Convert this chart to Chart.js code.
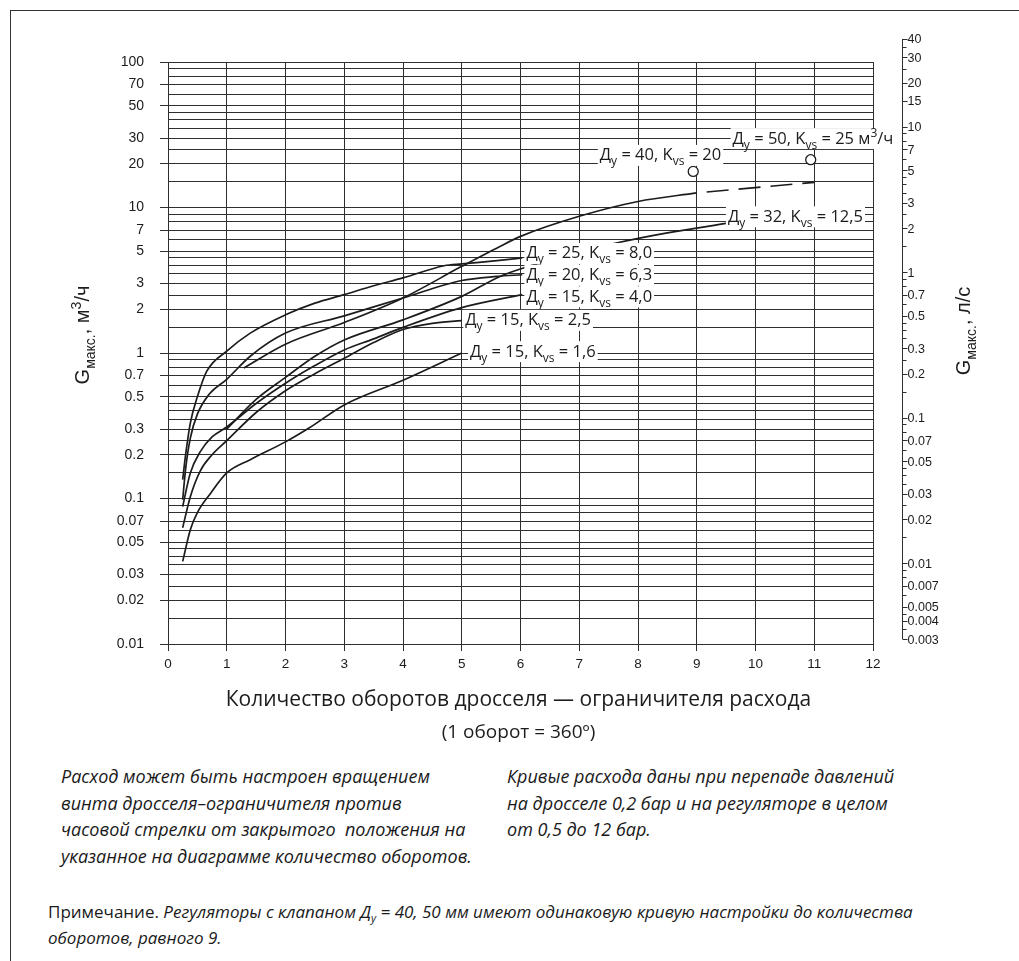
<!DOCTYPE html>
<html lang="ru">
<head>
<meta charset="utf-8">
<title>Кривые настройки расхода</title>
<script src="https://cdn.jsdelivr.net/npm/chart.js@4.4.1/dist/chart.umd.min.js"></script>
<style>
  html, body { margin: 0; padding: 0; background: #fff; overflow: hidden; }
  body { width: 1019px; height: 961px; position: relative; color: #1a1a1a; }
  #frame { position: absolute; left: 10px; top: 10px; width: 1100px; height: 1100px; border: 1.5px solid #333; }
  #chart { position: absolute; left: 0; top: 0; }
  .para { position: absolute; font-family: "Open Sans", sans-serif; font-style: italic; font-size: 18px; line-height: 26.6px; white-space: nowrap; }
  #note { position: absolute; left: 48px; top: 902px; font-family: "Open Sans", sans-serif; font-size: 17px; line-height: 19.5px; white-space: nowrap; }
  #note i sub { font-size: 11px; }
</style>
</head>
<body>
<div id="frame"></div>
<canvas id="chart" width="1019" height="761"></canvas>

<div class="para" style="left:61px; top:763px;">
  Расход может быть настроен вращением<br>
  винта дросселя–ограничителя против<br>
  часовой стрелки от закрытого&nbsp; положения на<br>
  указанное на диаграмме количество оборотов.
</div>
<div class="para" style="left:507px; top:763px;">
  Кривые расхода даны при перепаде давлений<br>
  на дросселе 0,2 бар и на регуляторе в целом<br>
  от 0,5 до 12 бар.
</div>
<div id="note">
  Примечание. <i>Регуляторы с клапаном Д<sub>y</sub> = 40, 50 мм имеют одинаковую кривую настройки до количества<br>
  оборотов, равного 9.</i>
</div>

<script>
// axes
const turnTicks = [0, 1, 2, 3, 4, 5, 6, 7, 8, 9, 10, 11, 12];
const gridMantissas = [1, 1.5, 2, 2.5, 3, 3.5, 4, 4.5, 5, 6, 7, 8, 9];
const flowDecades = [-2, -1, 0, 1, 2];
const flowTickLabels = [0.01, 0.02, 0.03, 0.05, 0.07, 0.1, 0.2, 0.3, 0.5, 0.7, 1, 2, 3, 5, 7, 10, 20, 30, 50, 70, 100];
const litreDecades = [-3, -2, -1, 0, 1];
const litreTickLabels = [0.003, 0.004, 0.005, 0.007, 0.01, 0.02, 0.03, 0.05, 0.07, 0.1, 0.2, 0.3, 0.5, 0.7, 1, 2, 3, 5, 7, 10, 15, 20, 30, 40];
const litresToCubic = 3.6; // 1 л/с = 3,6 м3/ч

// curves: turns of the throttle -> G max, m3/h
const kvs16Turns = [0.25, 0.38, 0.5, 0.72, 1.0, 1.4, 2.0, 2.4, 3.0, 4.0, 5.0];
const kvs16Flow = [0.037, 0.061, 0.08, 0.108, 0.15, 0.185, 0.245, 0.305, 0.44, 0.65, 1.0];
const kvs25Turns = [0.25, 0.38, 0.55, 0.75, 1.0, 1.5, 2.0, 2.5, 3.0, 3.5, 4.0, 4.5, 5.0];
const kvs25Flow = [0.063, 0.103, 0.155, 0.2, 0.25, 0.39, 0.55, 0.72, 0.92, 1.18, 1.45, 1.6, 1.67];
const kvs40Turns = [0.25, 0.38, 0.55, 0.75, 1.0, 1.5, 2.0, 2.5, 3.0, 3.5, 4.0, 5.0, 6.03];
const kvs40Flow = [0.088, 0.15, 0.21, 0.265, 0.31, 0.45, 0.62, 0.82, 1.05, 1.25, 1.5, 2.05, 2.52];
const kvs63Turns = [0.25, 0.3, 0.38, 0.5, 0.7, 1.0, 1.4, 2.0, 3.0, 4.0, 5.0, 5.6, 6.03];
const kvs63Flow = [0.098, 0.16, 0.26, 0.38, 0.52, 0.66, 0.95, 1.37, 1.8, 2.39, 3.15, 3.36, 3.45];
const kvs80Turns = [0.25, 0.3, 0.38, 0.5, 0.66, 1.0, 1.4, 2.0, 2.5, 3.0, 3.5, 4.0, 4.7, 5.0, 5.6, 6.03];
const kvs80Flow = [0.135, 0.2, 0.33, 0.5, 0.75, 1.03, 1.37, 1.83, 2.2, 2.52, 2.9, 3.28, 3.98, 4.1, 4.31, 4.5];
const kvs125Turns = [1.0, 1.5, 2.0, 2.5, 3.0, 4.0, 5.0, 5.65, 6.05, 7.0, 7.63, 8.5, 9.53];
const kvs125Flow = [0.3, 0.48, 0.68, 0.95, 1.23, 1.69, 2.45, 3.36, 3.84, 4.9, 5.7, 6.7, 7.8];
const dn40Turns = [1.29, 2.0, 3.0, 4.0, 5.0, 5.65, 6.0, 7.0, 8.0, 9.0];
const dn40Flow = [0.79, 1.15, 1.62, 2.39, 3.94, 5.4, 6.33, 8.7, 11.0, 12.6];
const dn50DashTurns = [9.0, 11.0];
const dn50DashFlow = [12.6, 14.9];
const maxPointTurns = [8.94, 10.94];
const maxPointFlow = [17.7, 21.3];

// curve labels
const labelTurns = [9.61, 7.35, 9.53, 6.1, 6.1, 6.1, 5.06, 5.14];
const labelFlows = [30, 23, 8.7, 4.87, 3.45, 2.45, 1.69, 1.03];
const labelDn = ['50', '40', '32', '25', '20', '15', '15', '15'];
const labelKvs = ['25 м', '20', '12,5', '8,0', '6,3', '4,0', '2,5', '1,6'];

const INK = '#1c1c1c';
const GRID = '#2e2e2e';
const round6 = v => Number(v.toPrecision(6));
const decadeValues = (decades, lo, hi) => {
  const out = [];
  decades.forEach(e => gridMantissas.forEach(m => {
    const v = round6(e < 0 ? m / Math.pow(10, -e) : m * Math.pow(10, e));
    if (v >= lo && v <= hi) out.push(v);
  }));
  return out;
};
const flowGrid = decadeValues(flowDecades, 0.01, 100);
const litreGrid = decadeValues(litreDecades, 0.003, 40);
const flowLabelSet = new Set(flowTickLabels);
const litreLabelSet = new Set(litreTickLabels);

const toPoints = (xs, ys) => xs.map((x, i) => ({ x: x, y: ys[i] }));
const curve = (xs, ys, extra) => Object.assign({
  type: 'line',
  data: toPoints(xs, ys),
  borderColor: INK,
  borderWidth: 1.7,
  pointRadius: 0,
  fill: false,
  cubicInterpolationMode: 'monotone'
}, extra || {});

function richWidth(ctx, parts, family, size) {
  let w = 0;
  parts.forEach(([t, k]) => {
    ctx.font = (k ? Math.round(size * 0.7) : size) + 'px ' + family;
    w += ctx.measureText(t).width;
  });
  return w;
}
function drawRich(ctx, parts, x, baseline, family, size) {
  let cx = x;
  parts.forEach(([t, k]) => {
    const s = k ? Math.round(size * 0.7) : size;
    ctx.font = s + 'px ' + family;
    const dy = k === 1 ? size * 0.3 : (k === 2 ? -size * 0.38 : 0);
    ctx.fillText(t, cx, baseline + dy);
    cx += ctx.measureText(t).width;
  });
}

const decorations = {
  id: 'decorations',
  afterDatasetsDraw(chart) {
    const ctx = chart.ctx;
    const xs = chart.scales.x, ys = chart.scales.y;
    const fam = '"Open Sans", sans-serif';
    const size = 16.5;
    ctx.save();
    ctx.textBaseline = 'alphabetic';
    labelTurns.forEach((t, i) => {
      const px = xs.getPixelForValue(t);
      const py = ys.getPixelForValue(labelFlows[i]);
      const parts = [['Д', 0], ['y', 1], [' = ' + labelDn[i] + ', K', 0], ['vs', 1], [' = ' + labelKvs[i], 0]];
      if (i === 0) parts.push(['3', 2], ['/ч', 0]);
      const w = richWidth(ctx, parts, fam, size);
      ctx.fillStyle = '#fff';
      ctx.fillRect(px - 2, py - 10, w + 4, 21);
      ctx.fillStyle = INK;
      drawRich(ctx, parts, px, py + 5.5, fam, size);
    });
    ctx.restore();
  },
  afterDraw(chart) {
    const ctx = chart.ctx;
    const xs = chart.scales.x, ys = chart.scales.y;
    const area = chart.chartArea;
    ctx.save();
    // right axis in l/s
    const ax = Math.round(xs.getPixelForValue(12.5)) + 0.5;
    const litrePx = v => ys.getPixelForValue(v * litresToCubic);
    ctx.strokeStyle = GRID;
    ctx.lineWidth = 1;
    ctx.beginPath();
    ctx.moveTo(ax, litrePx(40));
    ctx.lineTo(ax, litrePx(0.003));
    litreGrid.forEach(v => {
      const py = Math.round(litrePx(v)) + 0.5;
      ctx.moveTo(ax, py);
      ctx.lineTo(ax + (litreLabelSet.has(v) ? 5 : 4), py);
    });
    ctx.stroke();
    ctx.fillStyle = INK;
    ctx.font = '12.5px "Liberation Sans", Arial, sans-serif';
    ctx.textAlign = 'left';
    ctx.textBaseline = 'middle';
    litreTickLabels.forEach(v => ctx.fillText(String(v), ax + 5, litrePx(v) + 1));

    // axis titles
    const arial = '"Liberation Sans", Arial, sans-serif';
    const leftParts = [['G', 0], ['макс.', 1], [', м', 0], ['3', 2], ['/ч', 0]];
    const rightParts = [['G', 0], ['макс.', 1], [', л/с', 0]];
    [[leftParts, 82, 335], [rightParts, 963, 331]].forEach(([parts, cx, cy]) => {
      const w = richWidth(ctx, parts, arial, 20);
      ctx.save();
      ctx.translate(cx, cy);
      ctx.rotate(-Math.PI / 2);
      ctx.textAlign = 'left';
      ctx.textBaseline = 'alphabetic';
      drawRich(ctx, parts, -w / 2, 7, arial, 20);
      ctx.restore();
    });

    ctx.textAlign = 'center';
    ctx.textBaseline = 'middle';
    const mid = (area.left + area.right) / 2 - 2;
    ctx.font = '21px "Open Sans", sans-serif';
    ctx.fillText('Количество оборотов дросселя — ограничителя расхода', mid, area.bottom + 56);
    ctx.font = '19px "Open Sans", sans-serif';
    ctx.fillText('(1 оборот = 360º)', mid, area.bottom + 89);
    ctx.restore();
  }
};

new Chart(document.getElementById('chart'), {
  data: {
    datasets: [
      curve(kvs16Turns, kvs16Flow),
      curve(kvs25Turns, kvs25Flow),
      curve(kvs40Turns, kvs40Flow),
      curve(kvs63Turns, kvs63Flow),
      curve(kvs80Turns, kvs80Flow),
      curve(kvs125Turns, kvs125Flow),
      curve(dn40Turns, dn40Flow),
      curve(dn50DashTurns, dn50DashFlow, { borderDash: [22, 10], borderDashOffset: 22 }),
      {
        type: 'scatter',
        data: toPoints(maxPointTurns, maxPointFlow),
        pointRadius: 5,
        pointBackgroundColor: '#fff',
        pointBorderColor: INK,
        pointBorderWidth: 1.3
      }
    ]
  },
  options: {
    responsive: false,
    animation: false,
    events: [],
    layout: { padding: { left: 0, right: 146, top: 62, bottom: 81 } },
    plugins: { legend: { display: false }, tooltip: { enabled: false } },
    scales: {
      x: {
        type: 'linear', min: 0, max: 12,
        afterBuildTicks: s => { s.ticks = turnTicks.map(v => ({ value: v })); },
        afterFit: s => { s.height = 36; },
        ticks: { autoSkip: false, maxRotation: 0, padding: 5, color: INK, font: { family: '"Liberation Sans", Arial', size: 13.5 } },
        grid: { color: GRID, lineWidth: 1, tickLength: 7, tickColor: GRID },
        border: { display: true, color: GRID }
      },
      y: {
        type: 'logarithmic', min: 0.01, max: 100,
        afterBuildTicks: s => { s.ticks = flowGrid.map(v => ({ value: v })); },
        afterFit: s => { s.width = 168; },
        ticks: {
          autoSkip: false, padding: 16, color: INK,
          font: { family: '"Liberation Sans", Arial', size: 14 },
          callback: v => flowLabelSet.has(round6(v)) ? String(round6(v)) : ''
        },
        grid: {
          color: GRID, lineWidth: 1, tickLength: 8,
          tickColor: c => (c.tick && flowLabelSet.has(round6(c.tick.value))) ? GRID : 'rgba(0,0,0,0)'
        },
        border: { display: true, color: GRID }
      }
    }
  },
  plugins: [decorations]
});
</script>
</body>
</html>
